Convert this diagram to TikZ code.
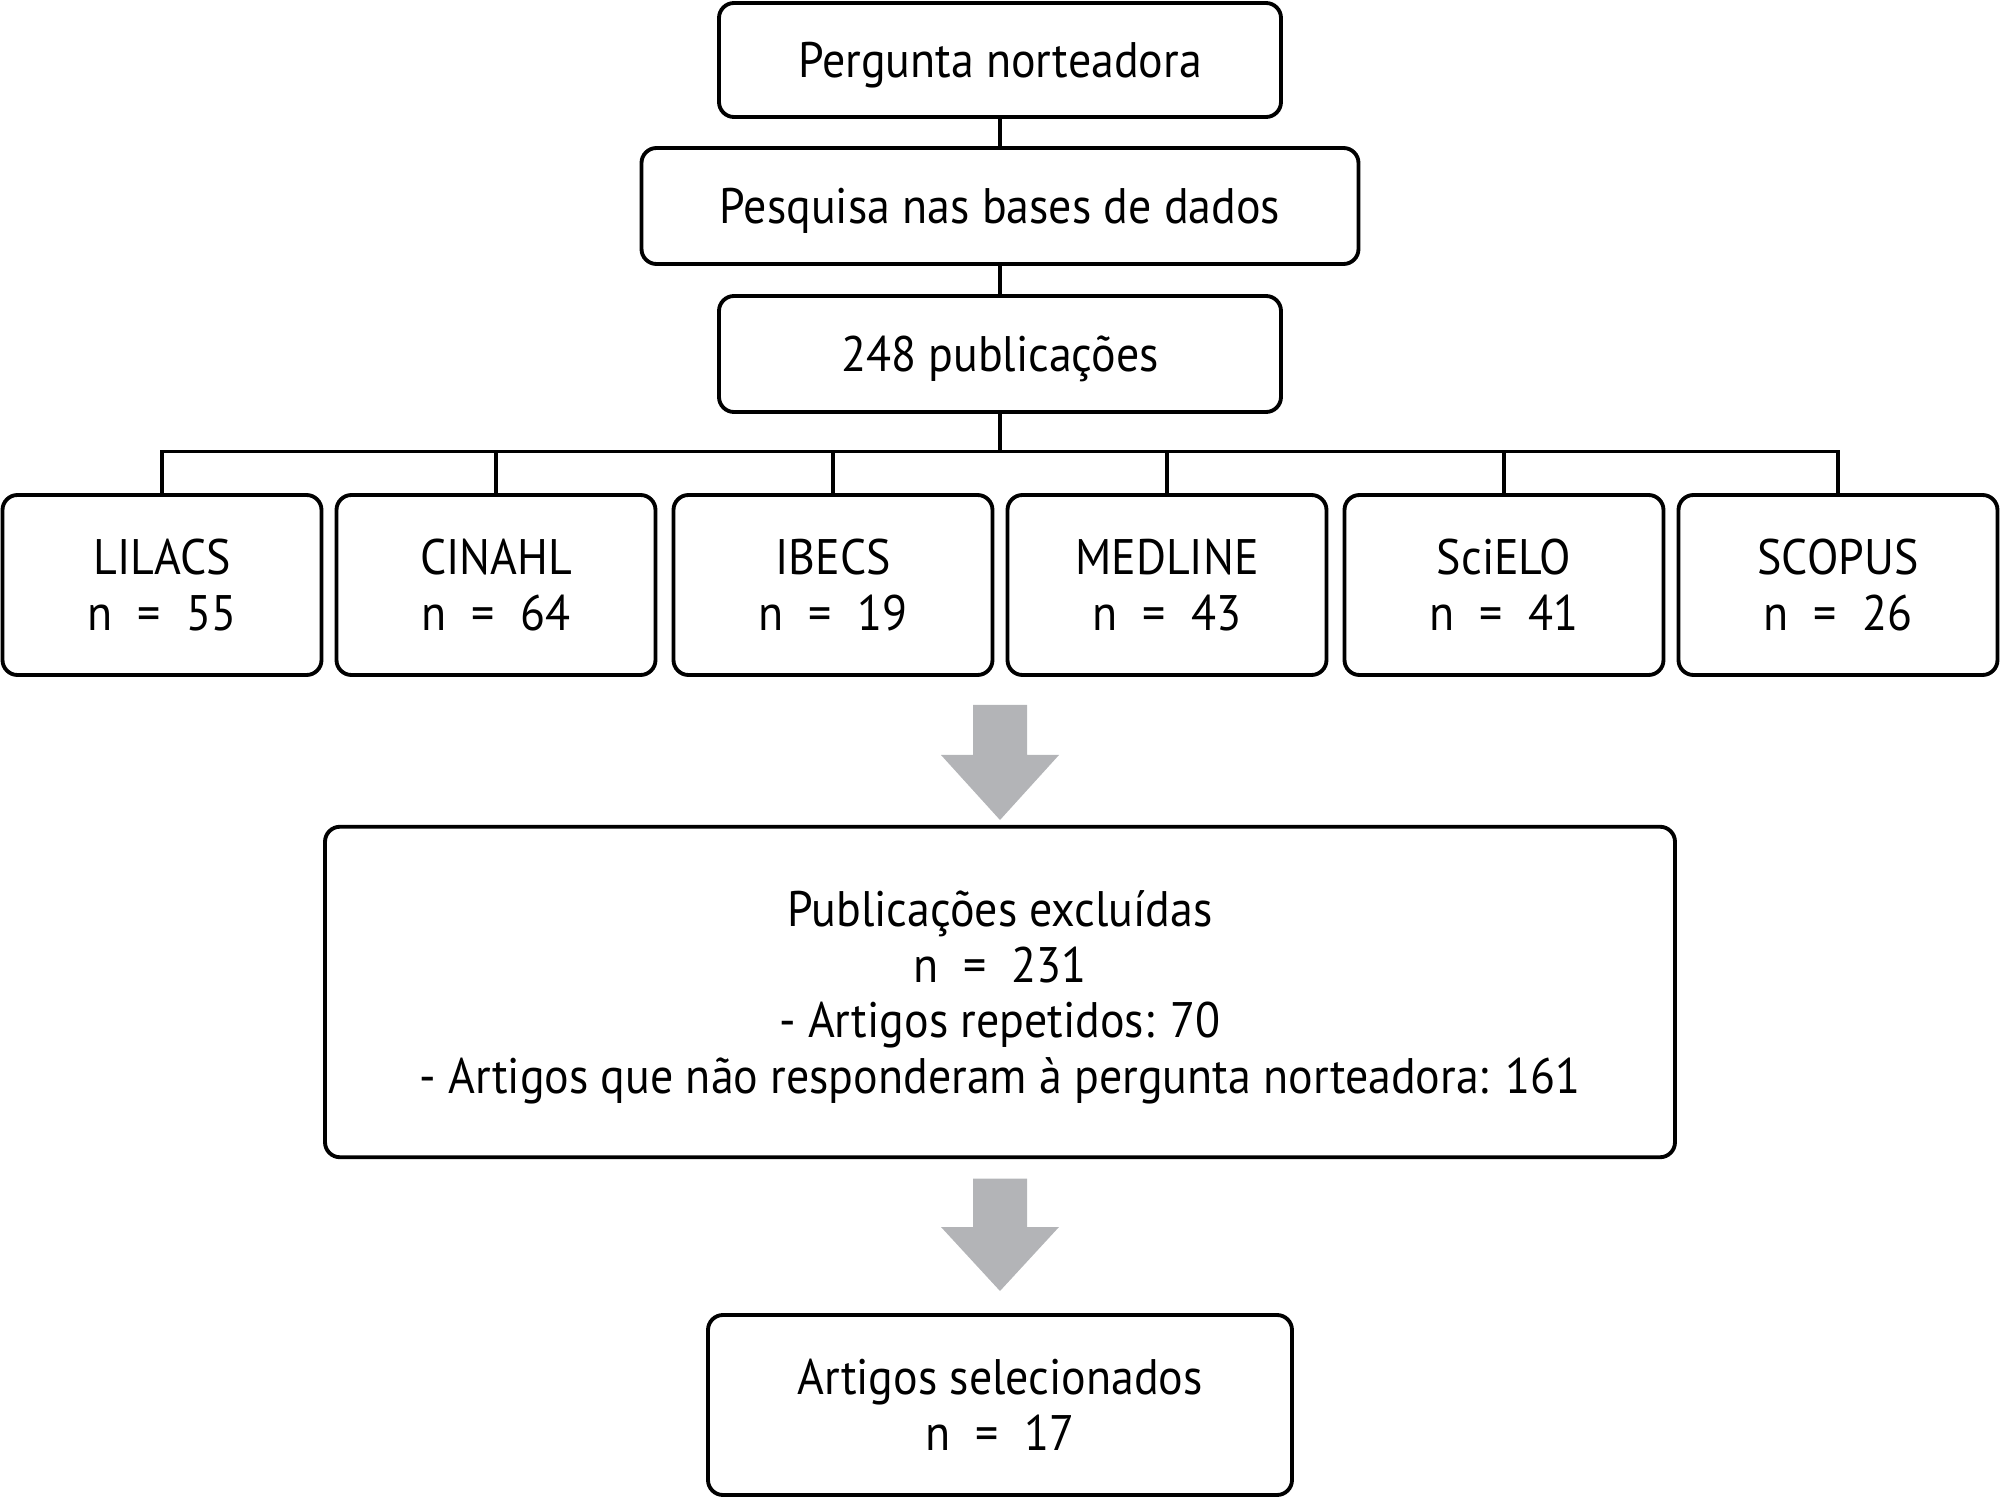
\documentclass[tikz,border=0pt]{standalone}
\usepackage{fontspec}
\setmainfont[FakeStretch=0.92]{PT Sans}
\definecolor{arrowgray}{RGB}{179,180,183}
\begin{document}
\begin{tikzpicture}[x=0.1mm,y=-0.1mm,
  box/.style={draw, line width=1.1pt, rounded corners=1.5mm, inner sep=0pt, align=center,
    text depth=0pt, font=\fontsize{14.2}{15.9}\selectfont},
  rowbox/.style={box, minimum width=31.9mm, minimum height=18mm},
  conn/.style={line width=1pt},
  blockarrow/.style={fill=arrowgray, draw=none}]
\useasboundingbox (0,0) rectangle (2000,1497);
\node[box, minimum width=56.2mm, minimum height=11.4mm] (b1) at (1000,60) {Pergunta norteadora};
\node[box, minimum width=71.7mm, minimum height=11.6mm] (b2) at (1000,206) {Pesquisa nas bases de dados};
\node[box, minimum width=56.2mm, minimum height=11.6mm] (b3) at (1000,354) {248 publicações};
\node[rowbox] (r1) at (162,585) {LILACS\\n\enspace=\enspace55};
\node[rowbox] (r2) at (496,585) {CINAHL\\n\enspace=\enspace64};
\node[rowbox] (r3) at (833,585) {IBECS\\n\enspace=\enspace19};
\node[rowbox] (r4) at (1167,585) {MEDLINE\\n\enspace=\enspace43};
\node[rowbox] (r5) at (1504,585) {SciELO\\n\enspace=\enspace41};
\node[rowbox] (r6) at (1838,585) {SCOPUS\\n\enspace=\enspace26};
\node[box, minimum width=135mm, minimum height=33.05mm] (ex) at (1000,992)
  {Publicações excluídas\\n\enspace=\enspace231\\- Artigos repetidos: 70\\- Artigos que não responderam à pergunta norteadora: 161};
\node[box, minimum width=58.4mm, minimum height=18mm] (fin) at (1000,1405) {Artigos selecionados\\n\enspace=\enspace17};
\coordinate (bus) at (1000,451.5);
\draw[conn] (b1.south) -- (b2.north);
\draw[conn] (b2.south) -- (b3.north);
\draw[conn] (b3.south) -- (bus);
\draw[conn] (r1.north) -- (r1.north |- bus) -- (r6.north |- bus) -- (r6.north);
\foreach \n in {r2,r3,r4,r5} \draw[conn] (\n.north) -- (\n.north |- bus);
\fill[blockarrow] (973,705) -- (1027,705) -- (1027,755) -- (1059,755) -- (1000,820) -- (941,755) -- (973,755) -- cycle;
\fill[blockarrow] (973,1178.5) -- (1027,1178.5) -- (1027,1227) -- (1059,1227) -- (1000,1291) -- (941,1227) -- (973,1227) -- cycle;
\end{tikzpicture}
\end{document}
